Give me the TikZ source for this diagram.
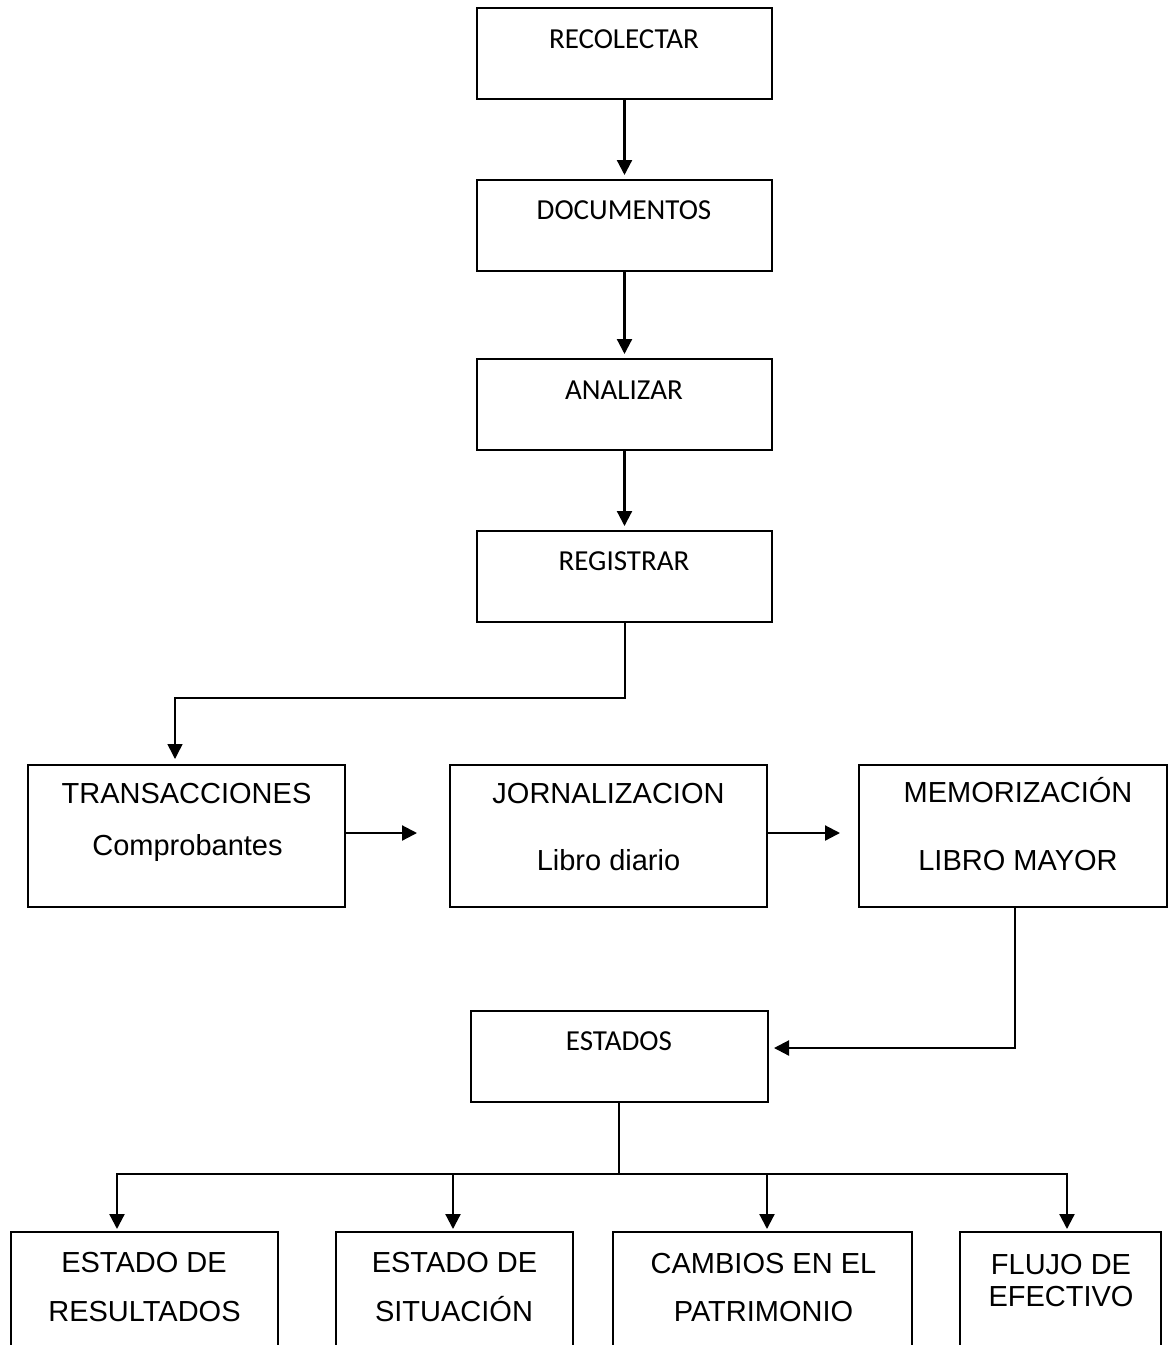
\documentclass[tikz,border=0pt]{standalone}
\usepackage{fontspec}
\setmainfont{Carlito}
\newfontfamily\arialf{Liberation Sans}
\usetikzlibrary{arrows.meta,calc}
\begin{document}
\begin{tikzpicture}[x=1pt,y=-1pt,
  box/.style={draw,line width=2pt,rectangle,inner sep=0pt},
  ctxt/.style={anchor=base,inner sep=0pt,font=\fontsize{29}{35}\selectfont},
  atxt/.style={anchor=base,inner sep=0pt,font=\arialf\fontsize{29}{35}\selectfont},
  arr/.style={line width=2.2pt,-{Triangle[length=15pt,width=15pt]}},
  thinarr/.style={line width=1.5pt,-{Triangle[length=15pt,width=15pt]}},
  thinline/.style={line width=1.5pt},
  busline/.style={line width=2.2pt}]
\useasboundingbox (0,0) rectangle (1168,1345);
\clip (0,0) rectangle (1168,1345);
% top column
\node[box,minimum width=295pt,minimum height=91pt] (rec) at (624.5,53.5) {};
\node[box,minimum width=295pt,minimum height=91pt] (doc) at (624.5,225.5) {};
\node[box,minimum width=295pt,minimum height=91pt] (ana) at (624.5,404.5) {};
\node[box,minimum width=295pt,minimum height=91pt] (reg) at (624.5,576.5) {};
\node[ctxt] (trec) at (624,48) {RECOLECTAR};
\node[ctxt] (tdoc) at (624,219) {DOCUMENTOS};
\node[ctxt] (tana) at (624,399) {ANALIZAR};
\node[ctxt] (treg) at (624,570) {REGISTRAR};
% middle row
\node[box,minimum width=317pt,minimum height=142pt] (trans) at (186.5,836) {};
\node[box,minimum width=317pt,minimum height=142pt] (jorn) at (608.5,836) {};
\node[box,minimum width=308pt,minimum height=142pt] (mem) at (1013,836) {};
\node[atxt] (ttr1) at (186.5,803) {TRANSACCIONES};
\node[atxt] (ttr2) at (187.5,855) {Comprobantes};
\node[atxt] (tjo1) at (608.5,803) {JORNALIZACION};
\node[atxt] (tjo2) at (608.5,870) {Libro diario};
\node[atxt] (tme1) at (1018,802) {MEMORIZACIÓN};
\node[atxt] (tme2) at (1018,870) {LIBRO MAYOR};
% estados
\node[box,minimum width=297pt,minimum height=91pt] (est) at (619.5,1056.5) {};
\node[ctxt] (test) at (619,1050.5) {ESTADOS};
% bottom row
\node[box,minimum width=267pt,minimum height=168pt] (b1) at (144.5,1316) {};
\node[box,minimum width=237pt,minimum height=168pt] (b2) at (454.5,1316) {};
\node[box,minimum width=299pt,minimum height=168pt] (b3) at (762.5,1316) {};
\node[box,minimum width=201pt,minimum height=168pt] (b4) at (1060.5,1316) {};
\node[atxt] (tb11) at (144,1272) {ESTADO DE};
\node[atxt] (tb12) at (144.5,1321.5) {RESULTADOS};
\node[atxt] (tb21) at (454.5,1272) {ESTADO DE};
\node[atxt] (tb22) at (454,1321.5) {SITUACIÓN};
\node[atxt] (tb31) at (763.5,1273) {CAMBIOS EN EL};
\node[atxt] (tb32) at (763.5,1321.5) {PATRIMONIO};
\node[atxt] (tb41) at (1061,1274) {FLUJO DE};
\node[atxt] (tb42) at (1061,1306.5) {EFECTIVO};
% connectors
\draw[arr,shorten >=4pt] (rec.south) -- (doc.north);
\draw[arr,shorten >=4pt] (doc.south) -- (ana.north);
\draw[arr,shorten >=4pt] (ana.south) -- (reg.north);
\coordinate (regbend) at (625,698);
\draw[thinarr,shorten >=5pt] ([xshift=0.5pt]reg.south) -- (regbend) -| ([xshift=-11.5pt]trans.north);
\draw[arr,shorten >=32pt] ([yshift=3pt]trans.east) -- ([yshift=3pt]jorn.west);
\draw[arr,shorten >=18pt] ([yshift=3pt]jorn.east) -- ([yshift=3pt]mem.west);
\coordinate (membend) at (1015,1048);
\draw[arr,shorten >=5pt] ([xshift=2pt]mem.south) -- (membend) -- (est.east |- membend);
\coordinate (bus) at (619,1174);
\draw[thinline] ([xshift=-0.5pt]est.south) -- (bus);
\draw[arr,shorten >=2pt] (bus) -| ([xshift=-27.5pt]b1.north);
\draw[arr,shorten >=2pt] (bus) -| ([xshift=-1.5pt]b2.north);
\draw[arr,shorten >=2pt] (bus) -| ([xshift=4.5pt]b3.north);
\draw[arr,shorten >=2pt] (bus) -| ([xshift=6.5pt]b4.north);
\end{tikzpicture}
\end{document}
